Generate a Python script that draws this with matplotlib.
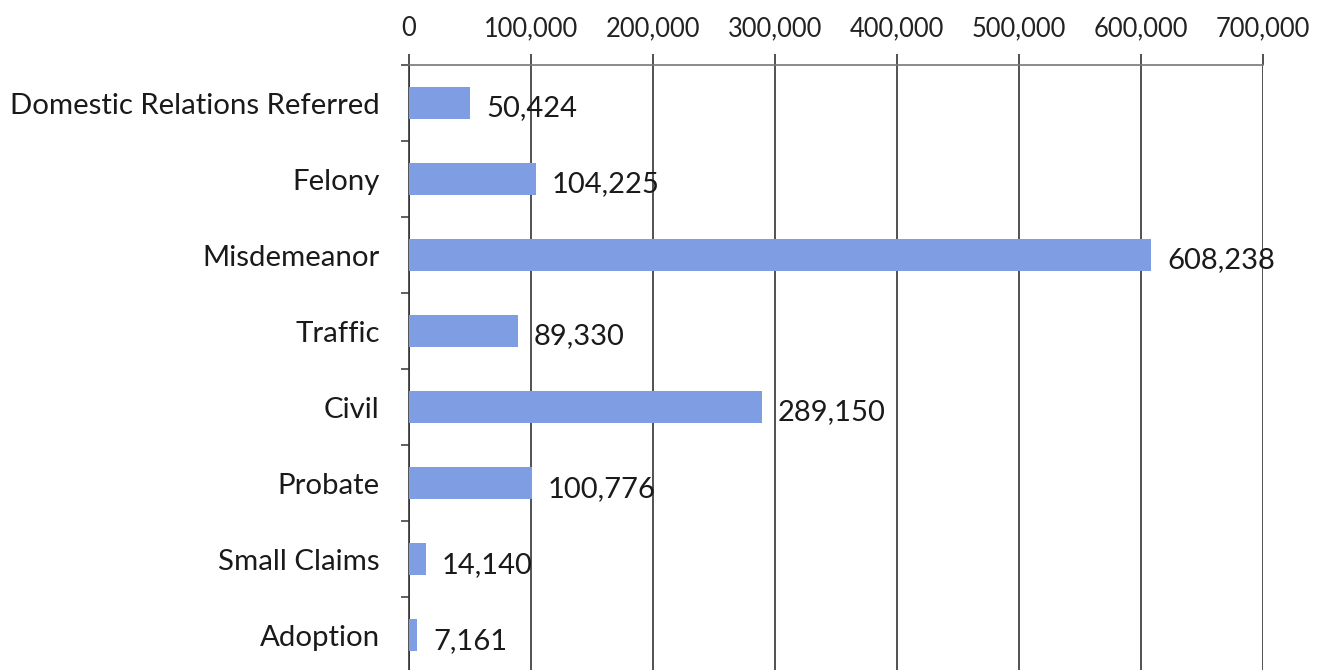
import matplotlib.pyplot as plt
import numpy as np

plt.rcParams['font.family'] = ['Lato', 'DejaVu Sans']

categories = ['Domestic Relations Referred', 'Felony', 'Misdemeanor', 'Traffic',
              'Civil', 'Probate', 'Small Claims', 'Adoption']
values = [50424, 104225, 608238, 89330, 289150, 100776, 14140, 7161]
xticks = [0, 100000, 200000, 300000, 400000, 500000, 600000, 700000]

fig = plt.figure(figsize=(13.27, 6.70), dpi=100)
ax = fig.add_axes([0.308, -0.005, 0.644, 0.908])

y = np.arange(len(categories))
ax.barh(y, values, height=0.42, color='#7f9de3', zorder=3)
ax.set_ylim(len(categories) - 0.5, -0.5)
ax.set_xlim(0, 700000)

for yi, v in zip(y, values):
    ax.text(v + 13000, yi + 0.07, f'{v:,}', va='center', ha='left',
            fontsize=21, color='#1a1a1a', zorder=4)

ax.xaxis.tick_top()
ax.set_xticks(xticks)
ax.set_xticklabels([f'{t:,}' for t in xticks], fontsize=18.4, color='#222222')
ax.tick_params(axis='x', length=8, width=1.2, color='#333333', pad=9)
ax.grid(axis='x', color='#333333', linewidth=1.2, zorder=1)

ax.set_yticks(y)
ax.set_yticklabels(categories, fontsize=21.2, color='#1a1a1a')
ax.tick_params(axis='y', which='major', length=0, pad=21)
ax.set_yticks(np.arange(len(categories)) - 0.5, minor=True)
ax.tick_params(axis='y', which='minor', length=6, width=1.2, color='#444444')

for s in ['right', 'bottom']:
    ax.spines[s].set_visible(False)
ax.spines['top'].set_color('#777777')
ax.spines['top'].set_linewidth(1.2)
ax.spines['left'].set_color('#333333')
ax.spines['left'].set_linewidth(1.2)

fig.savefig('out.png', dpi=100)
